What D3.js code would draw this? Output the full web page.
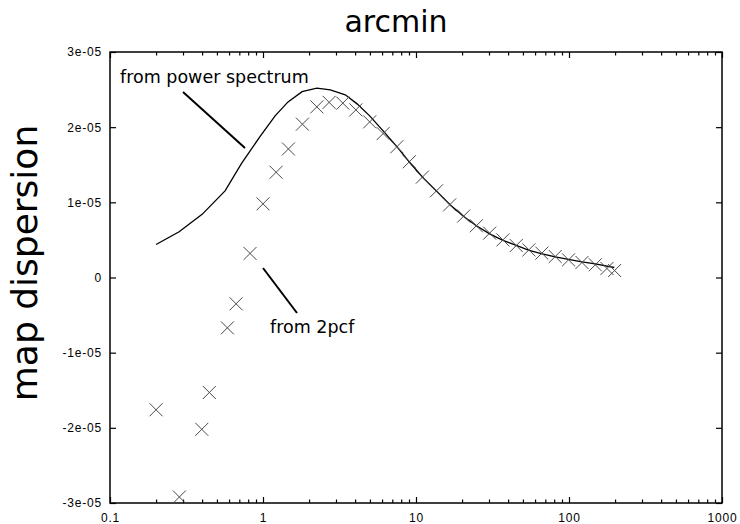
<!DOCTYPE html>
<html>
<head>
<meta charset="utf-8">
<script src="https://cdn.jsdelivr.net/npm/d3@7"></script>
<style>
    html, body { margin: 0; padding: 0; background: #fff; }
    .tick-label { font-family: "Liberation Sans", Arial, sans-serif; font-size: 12px; letter-spacing: 0.8px; fill: #000; }
    .big-label { font-family: "DejaVu Sans", sans-serif; fill: #000; }
</style>
</head>
<body>
<div id="chart"></div>
<script>

// 1. Data

// curve "from power spectrum" (arcmin, dispersion)
const psX = [0.2, 0.283, 0.4, 0.565, 0.726, 0.955, 1.2, 1.458, 1.8, 2.25, 2.75, 3.45, 4.12, 4.98,
    6.1, 7.5, 9.18, 11.2, 13.7, 16.7, 20.5, 24.8, 30.3, 37.0, 45.2, 54.9, 66.8, 81.3, 99.1, 121.6, 148.6, 197.6]
const psY = [0.439, 0.608, 0.84, 1.153, 1.521, 1.875, 2.15, 2.336, 2.473, 2.52, 2.496, 2.43, 2.31, 2.15,
    1.95, 1.74, 1.52, 1.32, 1.144, 0.967, 0.811, 0.688, 0.581, 0.495, 0.428, 0.362, 0.315, 0.275, 0.242, 0.209, 0.182, 0.133]
    .map(v => v * 1e-5)

// crosses "from 2pcf"
const pcfX = [0.2, 0.284, 0.398, 0.446, 0.585, 0.667, 0.823, 1.0, 1.218, 1.466, 1.81, 2.248, 2.706, 3.325,
    4.045, 4.98, 6.1, 7.5, 9.05, 11.0, 13.6, 16.6, 20.5, 24.8, 30.3, 37.0, 45.2, 54.7, 66.5, 81.3,
    99.3, 121.6, 148.6, 177, 198.7]
const pcfY = [-1.76, -2.92, -2.02, -1.53, -0.67, -0.35, 0.32, 0.98, 1.40, 1.71, 2.04, 2.27, 2.33, 2.32,
    2.23, 2.07, 1.915, 1.74, 1.54, 1.335, 1.153, 0.967, 0.817, 0.688, 0.59, 0.50, 0.425, 0.368, 0.324, 0.279,
    0.235, 0.20, 0.169, 0.12, 0.093]
    .map(v => v * 1e-5)

const xTickValues = [0.1, 1, 10, 100, 1000]
const xTickLabels = ["0.1", "1", "10", "100", "1000"]
const yTickValues = [-3e-5, -2e-5, -1e-5, 0, 1e-5, 2e-5, 3e-5]
const yTickLabels = ["-3e-05", "-2e-05", "-1e-05", "0", "1e-05", "2e-05", "3e-05"]

const titleText = "arcmin"
const yTitleText = "map dispersion"
const psLabel = "from power spectrum"
const pcfLabel = "from 2pcf"

// 2. Dimensions

let dimensions = {
    width: 740,
    height: 524,
    margin: {top: 52, right: 18, bottom: 21, left: 110},
}
dimensions.boundedWidth = dimensions.width - dimensions.margin.left - dimensions.margin.right
dimensions.boundedHeight = dimensions.height - dimensions.margin.top - dimensions.margin.bottom

// 3. Canvas

const svg = d3.select("#chart")
    .append("svg")
        .attr("width", dimensions.width)
        .attr("height", dimensions.height)

const bounds = svg.append("g")
    .attr("transform", `translate(${dimensions.margin.left}, ${dimensions.margin.top})`)

// 4. Scales

const xScale = d3.scaleLog()
    .domain([0.1, 1000])
    .range([0, dimensions.boundedWidth])

const yScale = d3.scaleLinear()
    .domain([-3e-5, 3e-5])
    .range([dimensions.boundedHeight, 0])

const isMajor = d => Math.abs(Math.log10(d) - Math.round(Math.log10(d))) < 1e-9
const xLabel = d => {
    const i = xTickValues.findIndex(v => Math.abs(v - d) / v < 1e-9)
    return i >= 0 ? xTickLabels[i] : ""
}

// 5. Axes (gnuplot style: ticks pointing inward, mirrored)

const majorLen = 6
const minorLen = 3.5

function styleAxis(g) {
    g.select(".domain").remove()
    g.selectAll(".tick line").attr("stroke", "#000").attr("stroke-width", 1.2)
    g.selectAll(".tick text").attr("class", "tick-label")
}

const xAxisBottom = bounds.append("g")
    .attr("transform", `translate(0, ${dimensions.boundedHeight})`)
    .call(d3.axisBottom(xScale).tickSizeInner(-majorLen).tickSizeOuter(0).tickPadding(10).tickFormat(xLabel))
    .call(styleAxis)
xAxisBottom.selectAll(".tick line").attr("y2", d => isMajor(d) ? -majorLen : -minorLen)
xAxisBottom.selectAll(".tick text").attr("dy", "0.71em")

const xAxisTop = bounds.append("g")
    .call(d3.axisTop(xScale).tickSizeInner(-majorLen).tickSizeOuter(0).tickFormat(""))
    .call(styleAxis)
xAxisTop.selectAll(".tick line").attr("y2", d => isMajor(d) ? majorLen : minorLen)

bounds.append("g")
    .call(d3.axisLeft(yScale).tickValues(yTickValues).tickSizeInner(-majorLen).tickSizeOuter(0)
        .tickPadding(8).tickFormat((d, i) => yTickLabels[i]))
    .call(styleAxis)

bounds.append("g")
    .attr("transform", `translate(${dimensions.boundedWidth}, 0)`)
    .call(d3.axisRight(yScale).tickValues(yTickValues).tickSizeInner(-majorLen).tickSizeOuter(0).tickFormat(""))
    .call(styleAxis)

// frame
bounds.append("rect")
    .attr("width", dimensions.boundedWidth)
    .attr("height", dimensions.boundedHeight)
    .attr("fill", "none")
    .attr("stroke", "#000")
    .attr("stroke-width", 1.5)

// 6. Marks

const line = d3.line()
    .x(d => xScale(d[0]))
    .y(d => yScale(d[1]))

bounds.append("path")
    .datum(d3.zip(psX, psY))
    .attr("d", line)
    .attr("fill", "none")
    .attr("stroke", "#000")
    .attr("stroke-width", 1.3)

const crossSize = 6.5
bounds.append("g")
    .selectAll("path")
    .data(d3.zip(pcfX, pcfY))
    .join("path")
        .attr("transform", d => `translate(${xScale(d[0])}, ${yScale(d[1])})`)
        .attr("d", `M${-crossSize},${-crossSize}L${crossSize},${crossSize}M${-crossSize},${crossSize}L${crossSize},${-crossSize}`)
        .attr("fill", "none")
        .attr("stroke", "#4a4a4a")
        .attr("stroke-width", 1)

// 7. Labels

svg.append("text")
    .attr("class", "big-label")
    .attr("x", 396)
    .attr("y", 32)
    .attr("text-anchor", "middle")
    .style("font-size", "30px")
    .text(titleText)

svg.append("text")
    .attr("class", "big-label")
    .attr("transform", "translate(37, 263) rotate(-90)")
    .attr("text-anchor", "middle")
    .style("font-size", "36px")
    .text(yTitleText)

svg.append("text")
    .attr("class", "big-label")
    .attr("x", 120)
    .attr("y", 83)
    .style("font-size", "17.5px")
    .text(psLabel)

svg.append("line")
    .attr("x1", 183).attr("y1", 92)
    .attr("x2", 245).attr("y2", 148)
    .attr("stroke", "#000").attr("stroke-width", 2)

svg.append("text")
    .attr("class", "big-label")
    .attr("x", 270)
    .attr("y", 333)
    .style("font-size", "17.5px")
    .text(pcfLabel)

svg.append("line")
    .attr("x1", 263).attr("y1", 268)
    .attr("x2", 297).attr("y2", 313)
    .attr("stroke", "#000").attr("stroke-width", 2)

</script>
</body>
</html>
